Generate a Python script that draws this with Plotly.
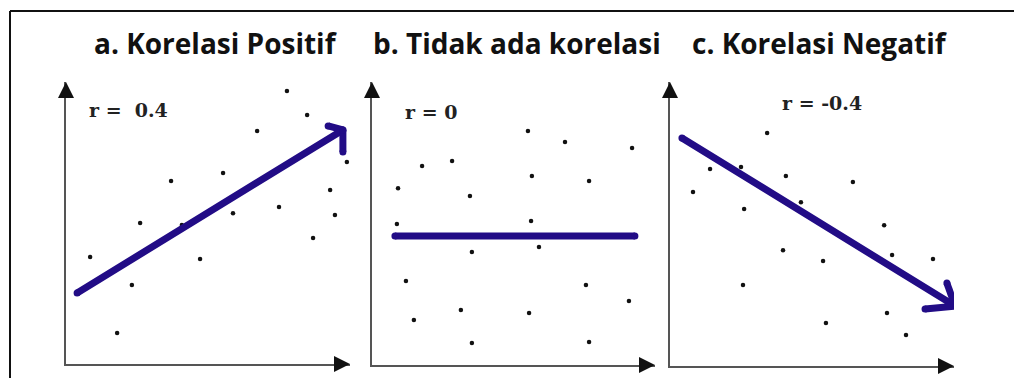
import plotly.graph_objects as go

W, H = 1014, 378

titles = ["a. Korelasi Positif", "b. Tidak ada korelasi", "c. Korelasi Negatif"]
r_labels = ["r =  0.4", "r = 0", "r = -0.4"]

# scatter points per panel (axis units 0-100)
a_x = [77.8, 84.9, 67.3, 98.9, 37.0, 55.3, 93.0, 26.1, 40.8, 58.8, 75.0, 94.7, 87.0, 8.5, 47.2, 23.2, 18.0]
a_y = [96.8, 88.3, 82.6, 71.6, 64.9, 67.7, 61.7, 50.0, 49.3, 53.5, 55.7, 52.8, 44.7, 37.9, 37.2, 28.0, 11.0]

b_x = [55.1, 68.2, 91.9, 17.7, 28.3, 56.5, 76.7, 9.2, 34.6, 8.8, 56.2, 35.3, 59.0, 12.0, 75.6, 90.8, 14.8, 31.4, 55.5, 35.3, 76.7]
b_y = [82.7, 78.8, 76.7, 70.3, 72.1, 66.8, 65.0, 62.5, 59.7, 49.8, 50.9, 39.9, 41.7, 29.7, 28.3, 22.6, 15.9, 19.4, 18.4, 7.8, 8.1]

c_x = [34.2, 14.1, 25.0, 40.8, 64.4, 8.1, 46.1, 26.1, 75.4, 39.8, 53.9, 78.2, 92.6, 25.7, 76.4, 54.9, 83.1]
c_y = [82.0, 69.4, 70.1, 66.9, 64.8, 61.3, 57.7, 55.3, 49.6, 40.8, 37.0, 39.1, 37.7, 28.5, 18.7, 15.1, 10.9]

# trend arrows: start, tip, barb1, tip, barb2 (None = break)
a_line_x = [3.9, 97.5, 92.3, None, 97.5, 97.5]
a_line_y = [25.2, 83.0, 84.4, None, 83.0, 75.2]
b_line_x = [8.1, 92.9]
b_line_y = [45.6, 45.6]
c_line_x = [4.2, 100.4, 89.8, None, 100.4, 97.5]
c_line_y = [80.3, 21.1, 20.1, None, 21.1, 29.2]

# r-label positions (axis units)
r_pos = [(7.4, 90.1), (11.0, 89.4), (38.7, 92.6)]
title_x = [216, 517, 820]

# panel domains in pixels: (left, right, bottom, top)
panels = [(66, 350, 364, 82), (372, 655, 365, 82), (670, 954, 366, 82)]

pts = [(a_x, a_y), (b_x, b_y), (c_x, c_y)]
lines = [(a_line_x, a_line_y), (b_line_x, b_line_y), (c_line_x, c_line_y)]

LINE_COLOR = "#220c86"

fig = go.Figure()
layout = dict(
    width=W, height=H,
    margin=dict(l=0, r=0, t=0, b=0),
    paper_bgcolor="white", plot_bgcolor="white",
    showlegend=False,
)
annotations = []
shapes = []

for i, ((px, py), (lx, ly), (l, r, b, t)) in enumerate(zip(pts, lines, panels)):
    sfx = "" if i == 0 else str(i + 1)
    xa, ya = "x" + sfx, "y" + sfx
    fig.add_trace(go.Scatter(x=px, y=py, mode="markers", xaxis=xa, yaxis=ya,
                             marker=dict(size=4.5, color="#111"), cliponaxis=False,
                             hoverinfo="skip"))
    fig.add_trace(go.Scatter(x=lx, y=ly, mode="lines+markers", xaxis=xa, yaxis=ya,
                             line=dict(color=LINE_COLOR, width=7),
                             marker=dict(size=7, color=LINE_COLOR, line=dict(width=0)),
                             cliponaxis=False, hoverinfo="skip"))
    axcommon = dict(range=[0, 100], showgrid=False, zeroline=False, showticklabels=False,
                    ticks="", showline=True, linecolor="#555", linewidth=2, fixedrange=True)
    layout["xaxis" + sfx] = dict(domain=[l / W, r / W], anchor=ya, **axcommon)
    layout["yaxis" + sfx] = dict(domain=[1 - b / H, 1 - t / H], anchor=xa, **axcommon)
    # axis arrowheads
    annotations.append(dict(x=100, y=0, ax=94, ay=0, xref=xa, yref=ya, axref=xa, ayref=ya,
                            showarrow=True, arrowhead=2, arrowsize=1.6, arrowwidth=2,
                            arrowcolor="#111", text=""))
    annotations.append(dict(x=0, y=100, ax=0, ay=94, xref=xa, yref=ya, axref=xa, ayref=ya,
                            showarrow=True, arrowhead=2, arrowsize=1.6, arrowwidth=2,
                            arrowcolor="#111", text=""))
    # r label
    annotations.append(dict(x=r_pos[i][0], y=r_pos[i][1], xref=xa, yref=ya, xanchor="left",
                            yanchor="middle", showarrow=False, text="<b>" + r_labels[i] + "</b>",
                            font=dict(family="DejaVu Serif", size=19, color="#222")))
    # title
    annotations.append(dict(x=title_x[i] / W, y=1 - 43 / H, xref="paper", yref="paper",
                            xanchor="center", yanchor="middle", showarrow=False,
                            text="<b>" + titles[i] + "</b>",
                            font=dict(family="Open Sans", size=28, color="#111")))

shapes.append(dict(type="line", xref="paper", yref="paper", x0=10 / W, x1=1,
                   y0=1 - 11 / H, y1=1 - 11 / H, line=dict(color="#111", width=2)))
shapes.append(dict(type="line", xref="paper", yref="paper", x0=10 / W, x1=10 / W,
                   y0=0, y1=1 - 11 / H, line=dict(color="#111", width=2)))

layout["annotations"] = annotations
layout["shapes"] = shapes
fig.update_layout(**layout)
fig.write_html("out.html", config={"displayModeBar": False},
               post_script="document.body.style.margin='0';document.body.style.overflow='hidden';")
